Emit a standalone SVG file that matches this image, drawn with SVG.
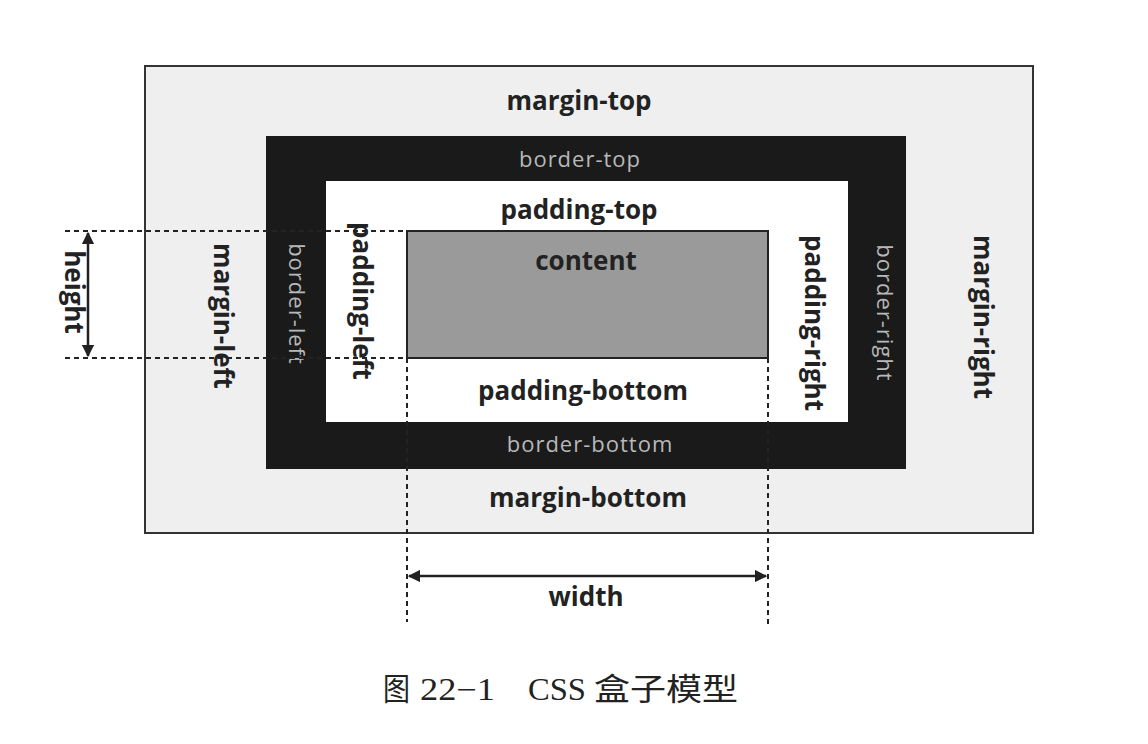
<svg xmlns="http://www.w3.org/2000/svg" width="1148" height="744" viewBox="0 0 1148 744">
<defs>
<style>
.lbl{font-family:"Open Sans","Liberation Sans",sans-serif;font-weight:700;font-size:26px;fill:#222;text-anchor:middle;dominant-baseline:central}
.brd{font-family:"Open Sans","Liberation Sans",sans-serif;font-weight:400;font-size:22px;fill:#b8b8b8;text-anchor:middle;dominant-baseline:central;letter-spacing:1px}
.dash{stroke:#222;stroke-width:2;stroke-dasharray:5,4;fill:none}
.dim{stroke:#222;stroke-width:2.5;fill:none;marker-start:url(#ah);marker-end:url(#ah)}
.cap{font-family:"Liberation Serif","Noto Sans CJK SC",serif;font-size:31px;fill:#222}
</style>
<marker id="ah" viewBox="0 0 10 10" refX="9" refY="5" markerWidth="5" markerHeight="5" orient="auto-start-reverse">
<path d="M0,0 L10,5 L0,10 z" fill="#222"/>
</marker>
</defs>
<rect width="1148" height="744" fill="#fff"/>
<g id="margin">
<rect x="145" y="66" width="888" height="467" fill="#efefef" stroke="#333" stroke-width="2"/>
<text class="lbl" x="579" y="100">margin-top</text>
<text class="lbl" x="588" y="497">margin-bottom</text>
<text class="lbl" transform="translate(224,316) rotate(90)">margin-left</text>
<text class="lbl" transform="translate(984,317) rotate(90)">margin-right</text>
</g>
<g id="border">
<rect x="266" y="136" width="640" height="333" fill="#1a1a1a"/>
<text class="brd" x="580" y="158">border-top</text>
<text class="brd" x="590" y="443">border-bottom</text>
<text class="brd" transform="translate(298,304) rotate(90)">border-left</text>
<text class="brd" transform="translate(886,313) rotate(90)">border-right</text>
</g>
<g id="padding">
<rect x="326" y="181" width="522" height="241" fill="#fff"/>
<text class="lbl" x="579" y="209">padding-top</text>
<text class="lbl" x="583" y="390">padding-bottom</text>
<text class="lbl" transform="translate(363,301) rotate(90)">padding-left</text>
<text class="lbl" transform="translate(815,323) rotate(90)">padding-right</text>
</g>
<g id="content">
<rect x="407" y="231" width="361" height="127" fill="#9a9a9a" stroke="#222" stroke-width="2"/>
<text class="lbl" x="586" y="260">content</text>
</g>
<g id="connectors">
<line class="dash" x1="65" y1="231" x2="407" y2="231"/>
<line class="dash" x1="65" y1="358" x2="407" y2="358"/>
<line class="dash" x1="407" y1="358" x2="407" y2="622"/>
<line class="dash" x1="768" y1="358" x2="768" y2="625"/>
<line class="dim" x1="88" y1="233" x2="88" y2="356"/>
<line class="dim" x1="409" y1="576" x2="766" y2="576"/>
</g>
<g id="dim-labels">
<text class="lbl" transform="translate(75,292) rotate(90)">height</text>
<text class="lbl" x="586" y="596">width</text>
</g>
<g id="caption">
<text class="cap" x="383" y="700" textLength="27" lengthAdjust="spacingAndGlyphs">图</text>
<text class="cap" x="420" y="700" textLength="75" lengthAdjust="spacingAndGlyphs">22−1</text>
<text class="cap" x="528" y="700" textLength="58" lengthAdjust="spacingAndGlyphs">CSS</text>
<text class="cap" x="594" y="700" textLength="144" lengthAdjust="spacingAndGlyphs">盒子模型</text>
</g>
</svg>
